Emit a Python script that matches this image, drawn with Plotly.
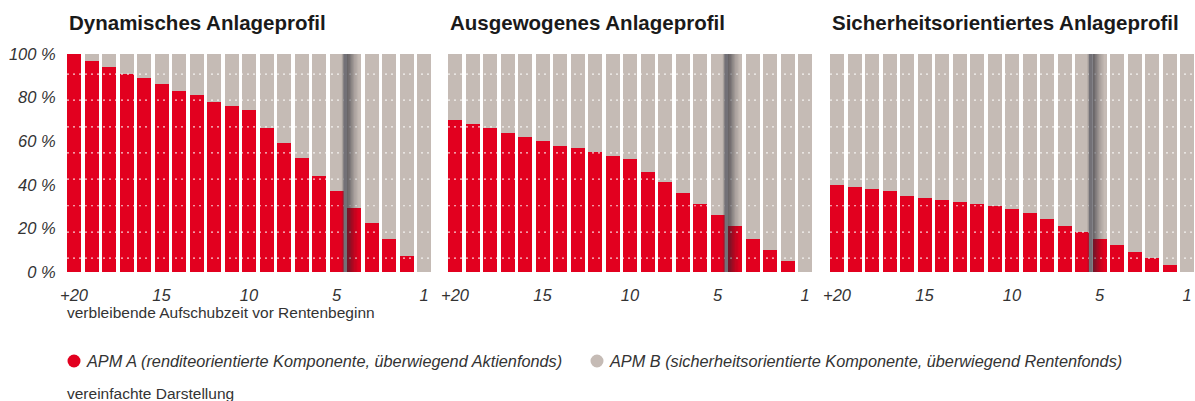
import plotly.graph_objects as go

# ---- data ----
titles = ["Dynamisches Anlageprofil", "Ausgewogenes Anlageprofil", "Sicherheitsorientiertes Anlageprofil"]
years = list(range(21))  # bar slots from +20 down to 1
tick_pos = [0, 5, 10, 15, 20]
tick_text = ["+20", "15", "10", "5", "1"]

apm_a_dyn = [100, 96.6, 94.0, 90.7, 89.0, 86.1, 83.0, 81.0, 78.0, 76.0, 74.2,
             66.1, 59.2, 52.3, 44.0, 37.2, 29.4, 22.5, 15.1, 7.3, 0]
apm_a_aus = [69.6, 67.7, 65.9, 63.6, 61.8, 59.9, 57.6, 56.7, 54.9, 53.1, 51.7,
             45.7, 41.1, 36.1, 31.0, 26.0, 20.9, 15.0, 9.9, 4.9, 0]
apm_a_sich = [39.8, 38.8, 37.9, 37.0, 34.7, 33.8, 32.9, 32.0, 31.0, 30.1, 28.7,
              26.9, 24.2, 20.9, 18.2, 15.0, 12.2, 9.0, 6.3, 3.1, 0]
series_a = [apm_a_dyn, apm_a_aus, apm_a_sich]
shadow_at = [15.5, 15.5, 14.5]  # switch marker position per panel

y_ticks = [0, 20, 40, 60, 80, 100]
y_text = ["0 %", "20 %", "40 %", "60 %", "80 %", "100 %"]

name_a = "APM A (renditeorientierte Komponente, überwiegend Aktienfonds)"
name_b = "APM B (sicherheitsorientierte Komponente, überwiegend Rentenfonds)"

RED = "#e2001f"
GRAY = "#c5bbb5"
W, H = 1195, 401
FONT = "Liberation Sans"

fig = go.Figure()

x_domains_px = [(67, 431), (448, 812), (830, 1194)]
y_dom = [(H - 272) / H, (H - 54) / H]

shapes = []
annotations = []
grid_levels = [6.4, 18.3, 30.4, 42.6, 54.6, 66.6, 78.8, 90.8]

for i, a in enumerate(series_a):
    b = [100 - v for v in a]
    xa = "x" if i == 0 else f"x{i+1}"
    ya = "y" if i == 0 else f"y{i+1}"
    fig.add_trace(go.Bar(x=years, y=a, marker_color=RED, marker_line_width=0,
                         name=name_a, showlegend=False, xaxis=xa, yaxis=ya))
    fig.add_trace(go.Bar(x=years, y=b, marker_color=GRAY, marker_line_width=0,
                         name=name_b, showlegend=False, xaxis=xa, yaxis=ya))
    suffix = "" if i == 0 else str(i + 1)
    dom = [x_domains_px[i][0] / W, x_domains_px[i][1] / W]
    fig.update_layout(**{
        f"xaxis{suffix}": dict(domain=dom, range=[-0.4, 20.4], tickvals=tick_pos,
                               ticktext=tick_text, showgrid=False, zeroline=False,
                               showline=False, ticks="outside", ticklen=8,
                               tickcolor="rgba(0,0,0,0)", fixedrange=True,
                               automargin=False, anchor=ya,
                               tickfont=dict(family=FONT, size=16.5,
                                             color="#333333", style="italic")),
        f"yaxis{suffix}": dict(domain=y_dom, range=[0, 100], tickvals=y_ticks,
                               ticktext=y_text, showticklabels=(i == 0),
                               showgrid=False, zeroline=False, showline=False,
                               ticks="outside" if i == 0 else "", ticklen=7,
                               tickcolor="rgba(0,0,0,0)", fixedrange=True,
                               automargin=False, anchor=xa,
                               tickfont=dict(family=FONT, size=16.5,
                                             color="#333333", style="italic")),
    })
    # dotted white guide lines over the bars
    for g in grid_levels:
        shapes.append(dict(type="line", xref=f"{xa} domain", yref=ya, x0=0, x1=1,
                           y0=g, y1=g, layer="above",
                           line=dict(color="rgba(255,255,255,0.8)", width=1.2, dash="2px,4px")))
    # shadow marker
    s = shadow_at[i]
    for k, (ext, op) in enumerate([(0.35, 0.08), (0.25, 0.10), (0.15, 0.12)]):
        shapes.append(dict(type="rect", xref=xa, yref=ya, x0=s - 0.1 - ext * 0.3,
                           x1=s + 0.1 + ext, y0=-1.5 - ext * 4, y1=101.5 + ext * 4,
                           fillcolor=f"rgba(60,60,70,{op})", line_width=0, layer="above"))
    shapes.append(dict(type="rect", xref=xa, yref=ya, x0=s - 0.1, x1=s + 0.1,
                       y0=0, y1=100, fillcolor="rgba(105,103,110,0.9)",
                       line_width=0, layer="above"))
    steps = 8
    for k in range(steps):
        x0 = s + 0.1 + k * 0.08
        shapes.append(dict(type="rect", xref=xa, yref=ya, x0=x0, x1=x0 + 0.08,
                           y0=0, y1=100,
                           fillcolor=f"rgba(30,30,40,{0.42 * (1 - k / steps):.3f})",
                           line_width=0, layer="above"))
    annotations.append(dict(text=f"<b>{titles[i]}</b>", xref="paper", yref="paper",
                            x=x_domains_px[i][0] / W, y=(H - 23) / H,
                            xanchor="left", yanchor="middle", showarrow=False,
                            font=dict(family=FONT, size=20.5, color="#1a1a1a")))

annotations.append(dict(text="verbleibende Aufschubzeit vor Rentenbeginn", xref="paper",
                        yref="paper", x=65 / W, y=(H - 312) / H, xanchor="left",
                        yanchor="middle", showarrow=False,
                        font=dict(family=FONT, size=15.5, color="#333333")))
annotations.append(dict(text="vereinfachte Darstellung", xref="paper", yref="paper",
                        x=65 / W, y=(H - 393) / H, xanchor="left", yanchor="middle",
                        showarrow=False,
                        font=dict(family=FONT, size=15.5, color="#333333")))

# legend items
for cx, txt_x, col, txt in [(74, 84, RED, name_a), (597, 607, GRAY, name_b)]:
    cy = H - 361
    shapes.append(dict(type="circle", xref="paper", yref="paper",
                       x0=(cx - 6.5) / W, x1=(cx + 6.5) / W,
                       y0=(cy - 6.5) / H, y1=(cy + 6.5) / H,
                       fillcolor=col, line_width=0))
    annotations.append(dict(text=txt, xref="paper", yref="paper", x=txt_x / W,
                            y=cy / H, xanchor="left", yanchor="middle", showarrow=False,
                            font=dict(family=FONT, size=16.3, color="#333333",
                                      style="italic")))

fig.update_layout(width=W, height=H, margin=dict(l=0, r=0, t=0, b=0),
                  barmode="stack", bargap=0.2, paper_bgcolor="white",
                  plot_bgcolor="white", shapes=shapes, annotations=annotations,
                  showlegend=False)

fig.write_html("out.html", config={"displayModeBar": False},
               post_script="document.body.style.margin='0';document.body.style.overflow='hidden';")
